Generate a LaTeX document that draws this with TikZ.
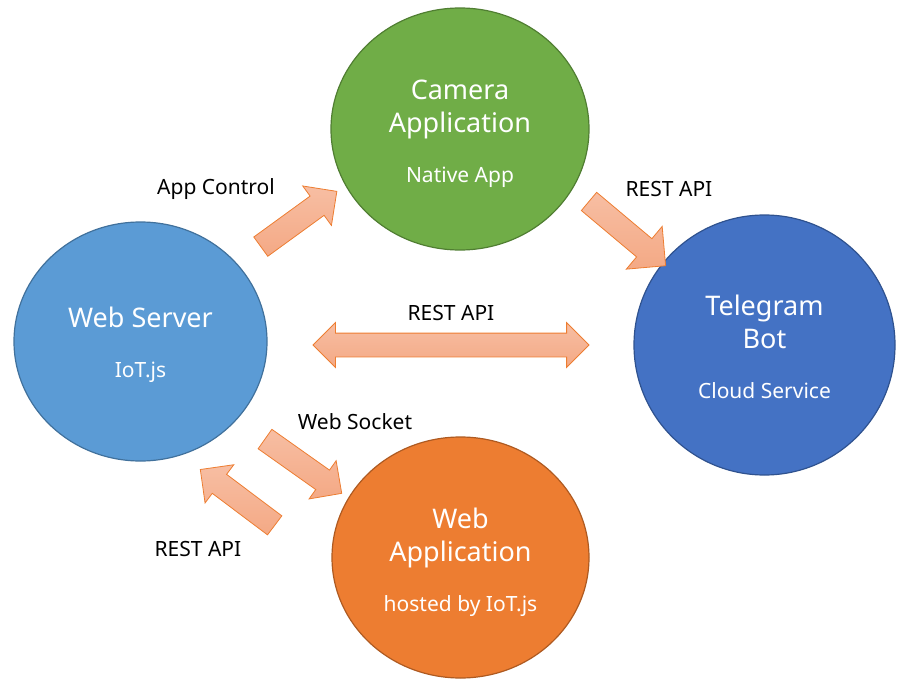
\documentclass[tikz,border=0pt]{standalone}
\usepackage{fontspec}
\setmainfont{Noto Sans}
\usetikzlibrary{positioning,shapes.geometric,shapes.arrows}
\definecolor{srvfill}{HTML}{5B9BD5}
\definecolor{srvline}{HTML}{41719C}
\definecolor{camfill}{HTML}{70AD47}
\definecolor{camline}{HTML}{507E32}
\definecolor{botfill}{HTML}{4472C4}
\definecolor{botline}{HTML}{2F528F}
\definecolor{appfill}{HTML}{ED7D31}
\definecolor{appline}{HTML}{AE5A21}
\definecolor{arrline}{HTML}{ED7D31}
\definecolor{arrtop}{HTML}{F7BEA3}
\definecolor{arrbot}{HTML}{F4A985}
\newcommand{\subtxt}[1]{{\fontsize{21}{25}\selectfont #1}}

\begin{document}
\begin{tikzpicture}[x=1pt, y=-1pt,
  blob/.style={ellipse, line width=1.2pt, text=white, align=center, inner sep=0pt,
    font=\fontsize{27}{33}\selectfont},
  fat/.style={draw=arrline, line width=0.8pt, top color=arrtop, bottom color=arrbot,
    inner xsep=0pt, inner ysep=11.5pt},
  fatone/.style={fat, single arrow},
  tag/.style={font=\fontsize{21}{25}\selectfont, text=black}]
  \useasboundingbox (0,0) rectangle (914,693);

  % the four parts
  \node (srv) [blob, fill=srvfill, draw=srvline, minimum width=253pt, minimum height=239pt]
    at (140.5,341.5) {\rule{0pt}{28pt}Web Server\\[17pt]\subtxt{IoT.js}};
  \node (cam) [blob, fill=camfill, draw=camline, minimum width=258pt, minimum height=242pt]
    at (460,129) {\rule{0pt}{30pt}Camera\\Application\\[17pt]\subtxt{Native App}};
  \node (bot) [blob, fill=botfill, draw=botline, minimum width=261pt, minimum height=260pt]
    at (764.5,345) {\rule{0pt}{25pt}Telegram\\Bot\\[17pt]\subtxt{Cloud Service}};
  \node (app) [blob, fill=appfill, draw=appline, minimum width=257pt, minimum height=241pt]
    at (460.5,557.5) {\rule{0pt}{31pt}Web\\Application\\[17pt]\subtxt{hosted by IoT.js}};

  % block arrows
  \node (ctl) [fatone, rotate=36, minimum height=94pt, single arrow head extend=12.5pt]
    at (294,222.5) {};
  \node (rest1) [fatone, rotate=-40, minimum height=100pt, single arrow head extend=16pt]
    at (622.75,229.75) {};
  \node (rest2) [fat, double arrow, double arrow head extend=10.5pt, minimum height=276pt]
    at (451,345) {};
  \node (sock) [fatone, rotate=-35.3, minimum height=94pt, single arrow head extend=11.5pt]
    at (298.5,462.75) {};
  \node (rest3) [fatone, rotate=143.1, minimum height=93pt, single arrow head extend=12pt]
    at (242.25,501) {};

  % labels
  \node (tctl) [tag] at (216,189) {App Control};
  \node (trest1) [tag] at (669,189) {REST API};
  \node (trest2) [tag] at (451,313) {REST API};
  \node (tsock) [tag] at (355,422) {Web Socket};
  \node (trest3) [tag] at (198,549) {REST API};
\end{tikzpicture}
\end{document}
